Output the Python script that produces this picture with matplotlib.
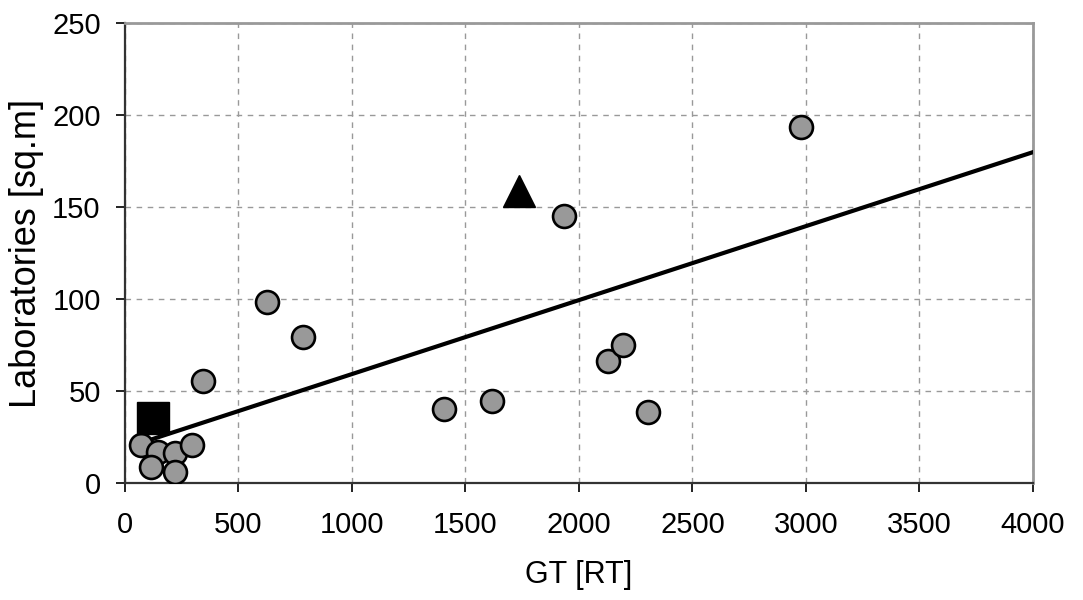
import numpy as np
import matplotlib.pyplot as plt

plt.rcParams['font.family'] = ['Liberation Sans', 'DejaVu Sans']

# Ship data: gross tonnage vs laboratory floor area
gt = [72, 147, 116, 219, 219, 297, 345, 626, 784, 1406, 1619, 1932, 2126, 2196, 2302, 2976]
labs = [20.6, 17, 8.9, 16.1, 6.2, 20.6, 55.6, 98.5, 79.5, 40, 44.7, 145.3, 66.5, 75, 38.7, 193.5]

# Highlighted vessels
square_gt, square_lab = [122], [35.2]
triangle_gt, triangle_lab = [1738], [158.5]

# Linear trend line
trend_slope = 0.0402
trend_intercept = 19.0
trend_x = [60, 4000]

fig, ax = plt.subplots(figsize=(10.83, 6.0), dpi=100)
fig.subplots_adjust(left=0.1154, right=0.9538, top=0.9617, bottom=0.195)

tx = np.array(trend_x)
ax.plot(tx, trend_slope * tx + trend_intercept, color='black', lw=3, zorder=3)

ax.plot(gt, labs, 'o', ms=16.5, mfc='#999999', mec='black', mew=1.9, zorder=4)
ax.plot(square_gt, square_lab, 's', ms=23.5, mfc='black', mec='black', zorder=5)
ax.plot(triangle_gt, triangle_lab, '^', ms=23, mfc='black', mec='black', zorder=5)

ax.set_xlim(0, 4000)
ax.set_ylim(0, 250)
ax.set_xticks(np.arange(0, 4001, 500))
ax.set_yticks(np.arange(0, 251, 50))

ax.grid(True, color='#999999', linestyle=(0, (4, 4)), lw=1)
ax.set_axisbelow(True)

for side in ['top', 'right']:
    ax.spines[side].set_color('#999999')
    ax.spines[side].set_linewidth(2)
for side in ['left', 'bottom']:
    ax.spines[side].set_color('#333333')
    ax.spines[side].set_linewidth(1.6)

ax.tick_params(direction='out', length=6.5, width=1.4, color='#222222',
               labelsize=21)
ax.tick_params(axis='x', pad=14)
ax.tick_params(axis='y', pad=11)

ax.set_xlabel('GT [RT]', fontsize=22, labelpad=15)
ax.set_ylabel('Laboratories [sq.m]', fontsize=26, labelpad=6)

fig.savefig('out.png', dpi=100)
